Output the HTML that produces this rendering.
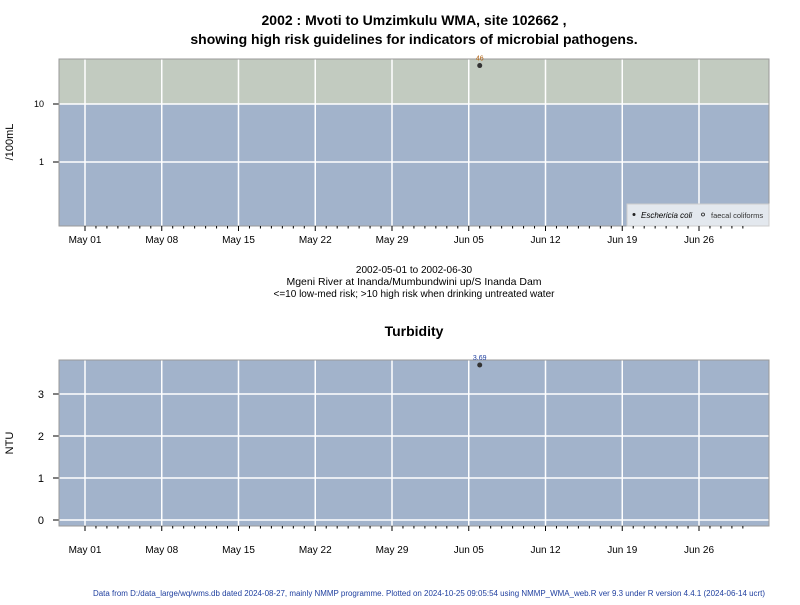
<!DOCTYPE html>
<html><head><meta charset="utf-8"><style>
body{margin:0;background:#fff}
svg text{font-family:"Liberation Sans",sans-serif}
</style></head><body>
<svg width="800" height="600" xmlns="http://www.w3.org/2000/svg">
<text x="414" y="25" font-size="14" font-weight="bold" text-anchor="middle">2002 : Mvoti to Umzimkulu WMA, site 102662 ,</text>
<text x="414" y="44" font-size="14" font-weight="bold" text-anchor="middle">showing high risk guidelines for indicators of microbial pathogens.</text>
<g id="top"></g>
<text x="414" y="273" font-size="10" text-anchor="middle">2002-05-01 to 2002-06-30</text>
<text x="414" y="285" font-size="10.5" text-anchor="middle">Mgeni River at Inanda/Mumbundwini up/S Inanda Dam</text>
<text x="414" y="297" font-size="10" text-anchor="middle">&lt;=10 low-med risk; &gt;10 high risk when drinking untreated water</text>
<text x="414" y="336" font-size="14" font-weight="bold" text-anchor="middle">Turbidity</text>
<g id="bot"></g>
<text x="429" y="596" font-size="7.8" fill="#1f3f9f" text-anchor="middle" textLength="672" lengthAdjust="spacingAndGlyphs">Data from D:/data_large/wq/wms.db dated 2024-08-27, mainly NMMP programme. Plotted on 2024-10-25 09:05:54 using NMMP_WMA_web.R ver 9.3 under R version 4.4.1 (2024-06-14 ucrt)</text>
</svg>
<script>
const xTickLabels=["May 01","May 08","May 15","May 22","May 29","Jun 05","Jun 12","Jun 19","Jun 26"];
const xTickDays=[0,7,14,21,28,35,42,49,56];
const ecoliDays=[36];
const ecoliValues=[46];
const turbDays=[36];
const turbValues=[3.69];
const logTicks=[1,10];
const turbTicks=[0,1,2,3];
const guideline=10;

const NS="http://www.w3.org/2000/svg";
const L=59,R=769;
function xs(d){return 85+d*(614/56);}
function mk(p,tag,a,txt){const e=document.createElementNS(NS,tag);for(const k in a)e.setAttribute(k,a[k]);if(txt!==undefined)e.textContent=txt;p.appendChild(e);return e;}
function xAxis(g,yb,ly){
  for(let d=0;d<=60;d++){const x=xs(d);
    const t=mk(g,'line',{x1:x,x2:x,y1:yb,y2:yb+(xTickDays.includes(d)?5:2.5),stroke:'#000'});
    }
  xTickLabels.forEach((s,i)=>{const t=mk(g,'text',{x:xs(xTickDays[i]),y:ly,'font-size':10,'text-anchor':'middle'},s);
    });
}
(function(){
  const g=document.getElementById('top');const T=59,B=226;
  const ys=v=>162-Math.log10(v)*58;
  mk(g,'rect',{x:L,y:T,width:R-L,height:B-T,fill:'#a2b3cb'});
  const hr=mk(g,'rect',{x:L,y:T,width:R-L,height:ys(guideline)-T,fill:'#c2cbc0'});
  
  xTickDays.forEach(d=>mk(g,'line',{x1:xs(d),x2:xs(d),y1:T,y2:B,stroke:'#fff','stroke-width':1.5}));
  logTicks.forEach(v=>{const y=ys(v);mk(g,'line',{x1:L,x2:R,y1:y,y2:y,stroke:'#fff','stroke-width':1.5});
    mk(g,'line',{x1:L-6,x2:L,y1:y,y2:y,stroke:'#000'});
    const t=mk(g,'text',{x:L-15,y:y+3,'font-size':9,'text-anchor':'end'},String(v));
    });
  mk(g,'rect',{x:L,y:T,width:R-L,height:B-T,fill:'none',stroke:'#999'});
  const yt=mk(g,'text',{x:13,y:142,'font-size':11,'text-anchor':'middle',transform:'rotate(-90 13 142)'},'/100mL');
  
  ecoliDays.forEach((d,i)=>{const x=xs(d),y=ys(ecoliValues[i]);
    const c=mk(g,'circle',{cx:x,cy:y,r:2.5,fill:'#333'});
    const t=mk(g,'text',{x:x,y:y-5,'font-size':7,fill:'#b06010','text-anchor':'middle'},String(ecoliValues[i]));
    });
  const lg=mk(g,'g',{});
  mk(lg,'rect',{x:627,y:204,width:142,height:22,fill:'#e3e8ee',stroke:'#ccc'});
  mk(lg,'circle',{cx:634,cy:214.5,r:1.5,fill:'#222'});
  mk(lg,'text',{x:641,y:218,'font-size':8,'font-style':'italic'},'Eschericia coli');
  mk(lg,'circle',{cx:703,cy:214.5,r:1.5,fill:'none',stroke:'#222','stroke-width':0.8});
  mk(lg,'text',{x:711,y:218,'font-size':7.5,fill:'#333'},'faecal coliforms');
  xAxis(g,B,243);
})();
(function(){
  const g=document.getElementById('bot');const T=360,B=526;
  const ys=v=>520-v*42;
  mk(g,'rect',{x:L,y:T,width:R-L,height:B-T,fill:'#a2b3cb'});
  xTickDays.forEach(d=>mk(g,'line',{x1:xs(d),x2:xs(d),y1:T,y2:B,stroke:'#fff','stroke-width':1.5}));
  turbTicks.forEach(v=>{const y=ys(v);mk(g,'line',{x1:L,x2:R,y1:y,y2:y,stroke:'#fff','stroke-width':1.5});
    mk(g,'line',{x1:L-6,x2:L,y1:y,y2:y,stroke:'#000'});
    const t=mk(g,'text',{x:L-15,y:y+4,'font-size':11,'text-anchor':'end'},String(v));
    });
  mk(g,'rect',{x:L,y:T,width:R-L,height:B-T,fill:'none',stroke:'#999'});
  const yt=mk(g,'text',{x:13,y:443,'font-size':11,'text-anchor':'middle',transform:'rotate(-90 13 443)'},'NTU');
  
  turbDays.forEach((d,i)=>{const x=xs(d),y=ys(turbValues[i]);
    const c=mk(g,'circle',{cx:x,cy:y,r:2.5,fill:'#333'});
    const t=mk(g,'text',{x:x,y:y-5,'font-size':7,fill:'#1f3f9f','text-anchor':'middle'},String(turbValues[i]));
    });
  xAxis(g,B,553);
})();
</script>
</body></html>
